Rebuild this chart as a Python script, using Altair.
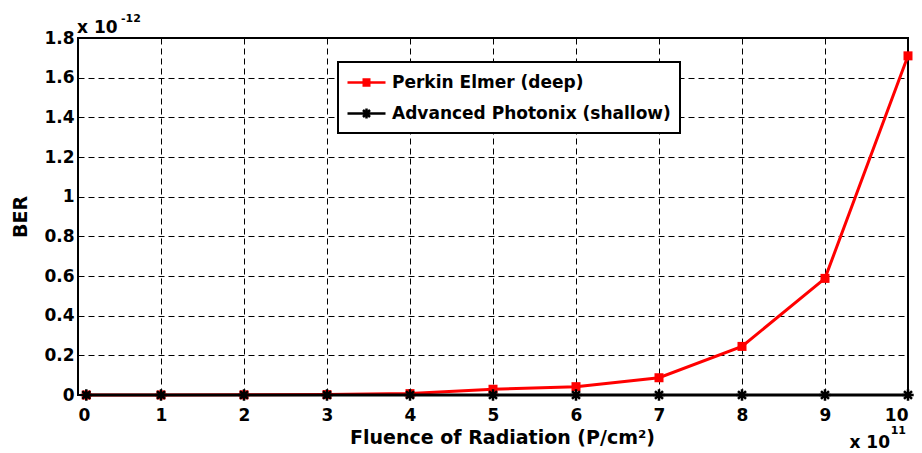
import altair as alt
import pandas as pd

# ---- data ----
fluence = [0.1, 1, 2, 3, 4, 5, 6, 7, 8, 9, 10]            # x 10^11 P/cm^2
perkin_ber = [0.0, 0.0003, 0.001, 0.002, 0.007, 0.029, 0.042, 0.087, 0.245, 0.588, 1.71]   # x 10^-12
advanced_ber = [0.0, 0.0, 0.0, 0.0, 0.0, 0.0, 0.0, 0.0, 0.0, 0.0, 0.0]
series_names = ["Perkin Elmer (deep)", "Advanced Photonix (shallow)"]
series_colors = ["red", "black"]
x_ticks = [0, 1, 2, 3, 4, 5, 6, 7, 8, 9, 10]
y_ticks = [0, 0.2, 0.4, 0.6, 0.8, 1.0, 1.2, 1.4, 1.6, 1.8]
y_exponent = ["x 10", "-12"]
x_exponent = ["x 10", "11"]

df = pd.DataFrame({
    "fluence": fluence * 2,
    "ber": perkin_ber + advanced_ber,
    "series": [series_names[0]] * len(fluence) + [series_names[1]] * len(fluence),
})

FONT = "DejaVu Sans"

x_scale = alt.Scale(domain=[0, 10], nice=False, zero=False)
y_scale = alt.Scale(domain=[0, 1.8], nice=False, zero=False)
x_axis = alt.Axis(values=x_ticks, title="Fluence of Radiation (P/cm²)",
                  format="d", labelPadding=12, titleX=424, titleY=48,
                  titleBaseline="alphabetic", titleAlign="center", labelOverlap=False)
y_axis = alt.Axis(values=y_ticks, title="BER", format=".1~f", labelPadding=4,
                  titleAngle=270, titleX=-52, titleBaseline="alphabetic", labelOverlap=False)

x_enc = alt.X("fluence:Q", scale=x_scale, axis=x_axis)
y_enc = alt.Y("ber:Q", scale=y_scale, axis=y_axis)

base = alt.Chart()

red_line = base.mark_line(color="red", strokeWidth=3).encode(x=x_enc, y=y_enc).transform_filter(
    alt.datum.series == series_names[0])
red_pts = base.mark_point(shape="square", filled=True, color="red", size=81, opacity=1).encode(
    x=x_enc, y=y_enc).transform_filter(alt.datum.series == series_names[0])

ASTER = "M0,-1V1M-1,0H1M-0.7,-0.7L0.7,0.7M-0.7,0.7L0.7,-0.7"
blk_line = base.mark_line(color="black", strokeWidth=3).encode(x=x_enc, y=y_enc).transform_filter(
    alt.datum.series == series_names[1])
blk_pts = base.mark_point(shape=ASTER, filled=False, color="black", strokeWidth=2.5, size=130,
                          opacity=1).encode(x=x_enc, y=y_enc).transform_filter(
    alt.datum.series == series_names[1])

# legend symbols: line segment with marker (square drawn from stroked lines)
LEG_SQUARE = ("M-1.9,0H1.9"
              "M-0.4,-0.3H0.4M-0.4,-0.1H0.4M-0.4,0.1H0.4M-0.4,0.3H0.4")
LEG_ASTER = "M-1.9,0H1.9M0,-0.5V0.5M-0.35,-0.35L0.35,0.35M-0.35,0.35L0.35,-0.35"

legend = alt.Legend(title=None, orient="none", legendX=260, legendY=24,
                    fillColor="white", strokeColor="black", padding=9,
                    labelFont=FONT, labelFontSize=17, labelFontWeight="bold",
                    labelColor="black", labelLimit=600,
                    symbolSize=400, symbolOffset=8, labelOffset=14, rowPadding=11,
                    symbolStrokeWidth=2.5, symbolOpacity=1)

legend_layer = base.mark_point(filled=False, strokeWidth=2.5, opacity=1).encode(
    x=x_enc, y=y_enc,
    color=alt.Color("series:N", scale=alt.Scale(domain=series_names, range=series_colors), legend=legend),
    shape=alt.Shape("series:N", scale=alt.Scale(domain=series_names, range=[LEG_SQUARE, LEG_ASTER]),
                    legend=legend),
).transform_filter("false")

one = alt.Data(values=[{"k": 1}])
txt_style = dict(font=FONT, fontWeight="bold", color="black")


def anno(xv, yv, text, size, align, dx, dy):
    return alt.Chart(one).mark_text(align=align, baseline="alphabetic", fontSize=size,
                                    dx=dx, dy=dy, **txt_style).encode(
        x=alt.XDatum(xv, scale=x_scale, axis=x_axis, title="Fluence of Radiation (P/cm²)"),
        y=alt.YDatum(yv, scale=y_scale, axis=y_axis, title="BER"),
        text=alt.value(text))


ylab_main = anno(0, 1.8, y_exponent[0], 17, "left", -1, -5)
ylab_exp = anno(0, 1.8, y_exponent[1], 11, "left", 43, -16)
xlab_main = anno(10, 0, x_exponent[0], 17, "right", -18, 53)
xlab_exp = anno(10, 0, x_exponent[1], 11, "right", -2, 39)

chart = alt.layer(
    red_line, red_pts, blk_line, blk_pts, legend_layer,
    ylab_main, ylab_exp, xlab_main, xlab_exp,
    data=df,
).properties(
    width=830, height=357,
    autosize=alt.AutoSizeParams(type="none"),
    padding={"left": 78, "top": 38, "right": 14, "bottom": 58},
    background="white",
).configure_view(
    stroke="black", strokeWidth=2,
).configure_axis(
    labelFont=FONT, labelFontSize=17, labelFontWeight="bold", labelColor="black",
    titleFont=FONT, titleFontSize=19, titleFontWeight="bold", titleColor="black",
    grid=True, gridColor="black", gridDash=[6, 4], gridWidth=1, gridOpacity=1,
    domain=False, ticks=False,
).configure_legend(
    strokeWidth=2,
)

chart.save("out.html", embed_options={"renderer": "svg", "actions": False})
